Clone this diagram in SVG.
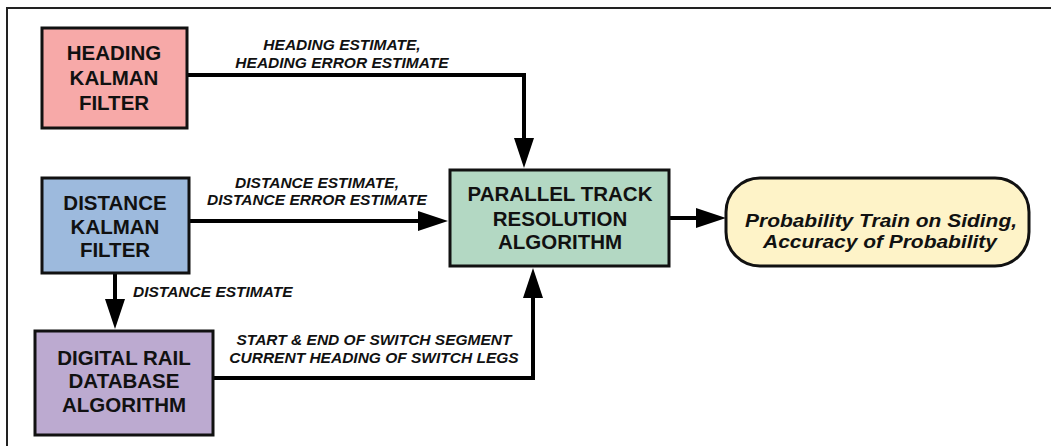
<svg xmlns="http://www.w3.org/2000/svg" width="1051" height="446" viewBox="0 0 1051 446">
<style>
.box{stroke:#111;stroke-width:3}
.nt{font-family:"Liberation Sans",Arial,sans-serif;font-weight:bold;font-size:20.5px;fill:#111;text-anchor:middle}
.lb{font-family:"Liberation Sans",Arial,sans-serif;font-weight:bold;font-style:italic;font-size:15.5px;fill:#111;text-anchor:middle}
.ot{font-family:"Liberation Sans",Arial,sans-serif;font-weight:bold;font-style:italic;font-size:19px;fill:#111;text-anchor:middle}
.cn{fill:none;stroke:#000;stroke-width:4;marker-end:url(#ah)}
</style>
<defs>
<marker id="ah" viewBox="0 0 30 20" refX="20" refY="10" markerWidth="30" markerHeight="20" markerUnits="userSpaceOnUse" orient="auto">
<path d="M0,0 L30,10 L0,20 Z" fill="#000"/>
</marker>
</defs>
<rect width="1051" height="446" fill="#fff"/>
<path d="M7,446 V8 H1051" fill="none" stroke="#222" stroke-width="2"/>
<g id="connectors">
<path class="cn" d="M187,75 H524 V158"/>
<path class="cn" d="M189,221 H438"/>
<path class="cn" d="M115,273 V319"/>
<path class="cn" d="M213,378 H533 V278"/>
<path class="cn" d="M669,218 H716"/>
<text class="lb" x="342" y="50">HEADING ESTIMATE,</text>
<text class="lb" x="342" y="68">HEADING ERROR ESTIMATE</text>
<text class="lb" x="317" y="188">DISTANCE ESTIMATE,</text>
<text class="lb" x="317" y="205">DISTANCE ERROR ESTIMATE</text>
<text class="lb" x="133" y="297" style="text-anchor:start">DISTANCE ESTIMATE</text>
<text class="lb" x="374" y="345">START &amp; END OF SWITCH SEGMENT</text>
<text class="lb" x="374" y="363">CURRENT HEADING OF SWITCH LEGS</text>
</g>
<g id="heading">
<rect class="box" x="42" y="28" width="145" height="100" fill="#F7A9A8"/>
<text class="nt" x="114" y="60">HEADING</text>
<text class="nt" x="114" y="85">KALMAN</text>
<text class="nt" x="114" y="110">FILTER</text>
</g>
<g id="distance">
<rect class="box" x="42" y="178" width="147" height="95" fill="#9DBADD"/>
<text class="nt" x="115" y="210">DISTANCE</text>
<text class="nt" x="115" y="234">KALMAN</text>
<text class="nt" x="115" y="257">FILTER</text>
</g>
<g id="digital">
<rect class="box" x="35" y="331" width="178" height="104" fill="#BCAAD0"/>
<text class="nt" x="124" y="365">DIGITAL RAIL</text>
<text class="nt" x="124" y="388">DATABASE</text>
<text class="nt" x="124" y="412">ALGORITHM</text>
</g>
<g id="parallel">
<rect class="box" x="450" y="170" width="219" height="96" fill="#B3D8C3"/>
<text class="nt" x="560" y="201">PARALLEL TRACK</text>
<text class="nt" x="560" y="226">RESOLUTION</text>
<text class="nt" x="560" y="249">ALGORITHM</text>
</g>
<g id="output">
<rect class="box" x="726" y="178" width="303" height="88" rx="34" ry="34" fill="#FEF3C8"/>
<text class="ot" x="881" y="227" textLength="272" lengthAdjust="spacingAndGlyphs">Probability Train on Siding,</text>
<text class="ot" x="880" y="248" textLength="234" lengthAdjust="spacingAndGlyphs">Accuracy of Probability</text>
</g>
</svg>
